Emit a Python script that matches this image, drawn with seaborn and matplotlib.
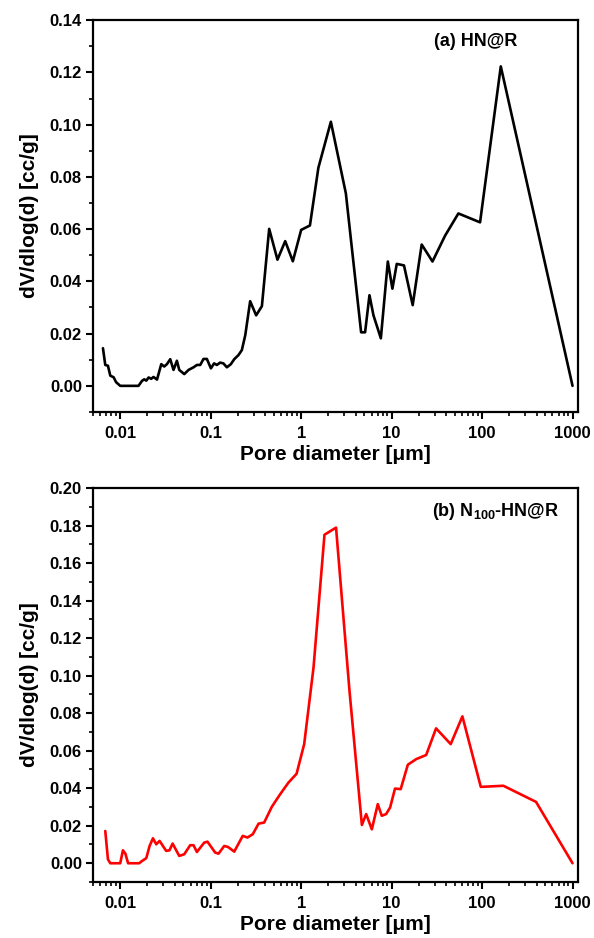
import numpy as np
import pandas as pd
import matplotlib
matplotlib.use("Agg")
import matplotlib.pyplot as plt
import matplotlib.ticker as mticker
import seaborn as sns

# ---- data ----
a_diam = [0.00644, 0.00683, 0.00731, 0.00776, 0.00844, 0.0090, 0.0100, 0.0159, 0.0174, 0.0184,
          0.0194, 0.0206, 0.0220, 0.0233, 0.0255, 0.0284, 0.0306, 0.0328, 0.0357, 0.0388,
          0.0423, 0.0449, 0.0510, 0.0569, 0.0646, 0.0704, 0.0766, 0.0832, 0.0907, 0.1005,
          0.109, 0.117, 0.127, 0.138, 0.151, 0.167, 0.182, 0.203, 0.221, 0.241,
          0.273, 0.318, 0.368, 0.443, 0.547, 0.666, 0.809, 1.0, 1.25, 1.55,
          2.13, 3.12, 4.6, 5.09, 5.69, 6.3, 7.6, 9.08, 10.2, 11.4,
          13.7, 17.1, 21.5, 28.3, 39, 54.7, 95, 161, 1000]
a_dv = [0.0144, 0.0080, 0.0077, 0.0039, 0.0033, 0.0014, 0.0, 0.0, 0.0019, 0.0025,
        0.0020, 0.0032, 0.0027, 0.0034, 0.0024, 0.0083, 0.0074, 0.0083, 0.0102, 0.0061,
        0.0096, 0.0061, 0.0045, 0.0061, 0.0071, 0.0080, 0.0080, 0.0103, 0.0103, 0.0067,
        0.0086, 0.0080, 0.0089, 0.0086, 0.0071, 0.0083, 0.0102, 0.0118, 0.0137, 0.0194,
        0.0324, 0.0270, 0.0305, 0.0601, 0.0483, 0.0554, 0.0477, 0.0597, 0.0614, 0.0835,
        0.1011, 0.0737, 0.0205, 0.0205, 0.0347, 0.0270, 0.0182, 0.0476, 0.0372, 0.0467,
        0.0461, 0.0309, 0.0541, 0.0476, 0.0575, 0.0660, 0.0626, 0.1223, 0.0]

b_diam = [0.00683, 0.00731, 0.00776, 0.0100, 0.0107, 0.0114, 0.0122, 0.0162, 0.0174, 0.0194,
          0.0211, 0.0230, 0.0250, 0.0272, 0.0322, 0.0350, 0.0379, 0.0449, 0.0510, 0.0593,
          0.0646, 0.0704, 0.0848, 0.0921, 0.112, 0.122, 0.141, 0.155, 0.182, 0.226,
          0.255, 0.292, 0.338, 0.39, 0.474, 0.586, 0.724, 0.89, 1.08, 1.37,
          1.81, 2.43, 3.42, 4.69, 5.23, 6.04, 7.03, 7.78, 8.69, 9.62,
          10.9, 12.6, 15.1, 18.7, 24.1, 31, 45, 60.6, 96.8, 172,
          395, 1000]
b_dv = [0.0172, 0.0021, 0.0, 0.0, 0.0069, 0.0051, 0.0, 0.0, 0.0012, 0.0027,
        0.0092, 0.0133, 0.0101, 0.0119, 0.0066, 0.0069, 0.0105, 0.0039, 0.0048, 0.0096,
        0.0096, 0.0060, 0.0110, 0.0115, 0.0057, 0.0051, 0.0092, 0.0087, 0.0062, 0.0146,
        0.0137, 0.0155, 0.0211, 0.0217, 0.0301, 0.0368, 0.0430, 0.0477, 0.0635, 0.1044,
        0.1751, 0.1789, 0.0920, 0.0204, 0.0262, 0.0181, 0.0315, 0.0253, 0.0262, 0.0297,
        0.0398, 0.0395, 0.0525, 0.0555, 0.0577, 0.0719, 0.0635, 0.0783, 0.0407, 0.0413,
        0.0327, 0.0]

x_ticks = [0.01, 0.1, 1, 10, 100, 1000]
x_tick_labels = ["0.01", "0.1", "1", "10", "100", "1000"]
label_a = "(a) HN@R"
label_b = r"(b) N$_{\mathbf{100}}$-HN@R"
x_label = "Pore diameter [\u03bcm]"
y_label = "dV/dlog(d) [cc/g]"

# ---- style ----
sns.set_theme(style="ticks")
plt.rcParams["font.family"] = ["Liberation Sans", "DejaVu Sans"]
plt.rcParams["font.weight"] = "bold"
plt.rcParams["text.color"] = "black"
plt.rcParams["axes.labelcolor"] = "black"
plt.rcParams["xtick.color"] = "black"
plt.rcParams["ytick.color"] = "black"
plt.rcParams["mathtext.fontset"] = "custom"
plt.rcParams["mathtext.rm"] = "Liberation Sans:bold"
plt.rcParams["mathtext.bf"] = "Liberation Sans:bold"

fig = plt.figure(figsize=(5.94, 9.38), dpi=100)
ax_a = fig.add_axes([0.1566, 0.5608, 0.8165, 0.4177])
ax_b = fig.add_axes([0.1566, 0.0597, 0.8165, 0.4200])

df_a = pd.DataFrame({"d": a_diam, "v": a_dv})
df_b = pd.DataFrame({"d": b_diam, "v": b_dv})

sns.lineplot(data=df_a, x="d", y="v", ax=ax_a, color="black", linewidth=1.9, sort=False)
sns.lineplot(data=df_b, x="d", y="v", ax=ax_b, color="#ff0000", linewidth=1.9, sort=False)

for ax, ymax, lab, lab_xy in [(ax_a, 0.14, label_a, (0.875, 0.945)),
                              (ax_b, 0.20, label_b, (0.96, 0.94))]:
    ax.set_xscale("log")
    ax.set_xlim(0.005, 1150)
    ax.set_ylim(-0.01, ymax)
    ax.set_xticks(x_ticks)
    ax.set_xticklabels(x_tick_labels)
    ax.xaxis.set_minor_locator(mticker.LogLocator(base=10, subs=np.arange(2, 10), numticks=20))
    ax.xaxis.set_minor_formatter(mticker.NullFormatter())
    ax.yaxis.set_major_locator(mticker.MultipleLocator(0.02))
    ax.yaxis.set_minor_locator(mticker.MultipleLocator(0.01))
    ax.yaxis.set_major_formatter(mticker.FormatStrFormatter("%.2f"))
    ax.tick_params(which="major", direction="out", length=5, width=1.5,
                   labelsize=12, top=False, right=False, pad=3)
    ax.tick_params(axis="x", which="major", pad=5)
    ax.tick_params(which="minor", direction="out", length=3, width=1.2,
                   top=False, right=False)
    for lbl in ax.get_xticklabels() + ax.get_yticklabels():
        lbl.set_fontweight("bold")
    for sp in ax.spines.values():
        sp.set_linewidth(1.6)
        sp.set_color("black")
    ax.set_xlabel(x_label, fontsize=15, fontweight="bold", labelpad=3)
    ax.set_ylabel(y_label, fontsize=15, fontweight="bold", labelpad=8)
    ax.text(lab_xy[0], lab_xy[1], lab, transform=ax.transAxes, ha="right", va="center",
            fontsize=13, fontweight="bold")

fig.savefig("out.png", dpi=100)
